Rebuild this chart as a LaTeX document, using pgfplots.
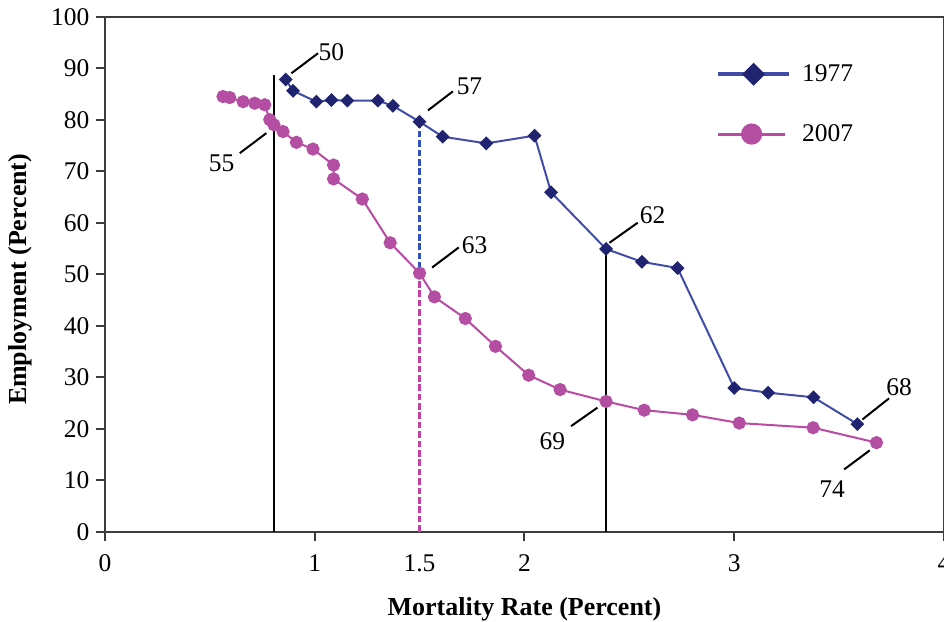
\documentclass[border=0pt]{standalone}
\usepackage{fontspec}
\setmainfont{Liberation Serif}
\usepackage{pgfplots}
\usepackage{pgfplotstable}
\pgfplotsset{compat=1.18}

\definecolor{navyline}{RGB}{64,76,168}
\definecolor{navymark}{RGB}{32,36,112}
\definecolor{plumline}{RGB}{186,74,162}
\definecolor{plummark}{RGB}{180,78,162}
\definecolor{axisgray}{RGB}{60,60,60}
\definecolor{dashblue}{RGB}{48,80,190}
\definecolor{dashplum}{RGB}{196,64,164}

\newcommand{\f}{\fontsize{12.75bp}{15bp}\selectfont}

% Employment rate against mortality rate, 1977
\pgfplotstableread{
x y
0.862 87.8
0.897 85.6
1.008 83.5
1.080 83.8
1.156 83.7
1.301 83.7
1.373 82.7
1.500 79.6
1.610 76.7
1.818 75.4
2.048 76.9
2.127 65.9
2.389 54.9
2.560 52.4
2.730 51.2
3.000 27.9
3.162 27.0
3.378 26.1
3.587 20.9
}\yearA

% Employment rate against mortality rate, 2007
\pgfplotstableread{
x y
0.563 84.5
0.595 84.3
0.659 83.5
0.714 83.2
0.762 82.9
0.786 80.0
0.806 79.0
0.849 77.7
0.913 75.6
0.992 74.3
1.090 71.2
1.090 68.5
1.227 64.6
1.360 56.1
1.500 50.2
1.571 45.6
1.718 41.4
1.862 36.0
2.020 30.4
2.170 27.6
2.389 25.3
2.571 23.6
2.801 22.7
3.024 21.1
3.376 20.2
3.678 17.3
}\yearB

\begin{document}
\begin{tikzpicture}
\begin{axis}[
  scale only axis,
  width=420bp, height=257.8bp,
  xmin=0, xmax=4, ymin=0, ymax=100,
  axis line style={axisgray, line width=1bp},
  xtick={0,1,2,3,4},
  ytick={0,10,...,100},
  extra x ticks={1.5},
  extra x tick style={major tick style={draw=none}},
  tick pos=left,
  tick align=outside,
  major tick length=4.6bp,
  tick style={axisgray, line width=1bp},
  ticklabel style={font=\f},
  /pgf/number format/assume math mode=true,
  xticklabel style={inner sep=3bp, yshift=-3.5bp},
  yticklabel style={inner sep=3bp},
  xlabel={Mortality Rate (Percent)},
  ylabel={Employment (Percent)},
  label style={font=\fontsize{13bp}{15bp}\selectfont\bfseries},
  xlabel style={at={(axis description cs:0.5,-0.151)}, anchor=center},
  ylabel style={at={(axis description cs:-0.101,0.49)}, anchor=center},
  legend style={draw=none, fill=none, font=\f,
    at={(axis cs:2.912,91.6)}, anchor=north west,
    row sep=16bp, inner sep=0pt,
    /tikz/every odd column/.append style={column sep=3.5bp}},
  legend cell align=left,
]

% reference lines at the marked ages
\addplot[black, line width=1bp, forget plot] coordinates {(0.805,0) (0.805,88.7)};
\addplot[black, line width=1bp, forget plot] coordinates {(2.389,0) (2.389,54.9)};
\addplot[dashblue, line width=1.5bp, dash pattern=on 3.3bp off 1.4bp, forget plot]
  coordinates {(1.5,0) (1.5,79.6)};
\addplot[dashplum, line width=1.5bp, dash pattern=on 3.3bp off 1.4bp, forget plot]
  coordinates {(1.5,0) (1.5,50.2)};

\addplot[navyline, line width=1bp, mark=square*, mark size=1.95bp,
  mark options={rotate=45, fill=navymark, draw=navymark, solid},
  legend image code/.code={
    \draw[line width=2bp] (0bp,0bp) -- (35.5bp,0bp);
    \draw[mark size=3.6bp] plot coordinates {(17.75bp,0bp)};
  }] table[x=x, y=y] {\yearA};
\addlegendentry{1977}

\addplot[plumline, line width=1bp, mark=*, mark size=2.8bp,
  mark options={fill=plummark, draw=plummark, solid},
  legend image code/.code={
    \draw[line width=1.5bp] (0bp,0bp) -- (33.5bp,0bp);
    \draw[mark size=4.8bp] plot coordinates {(16.75bp,0bp)};
  }] table[x=x, y=y] {\yearB};
\addlegendentry{2007}

% age annotations
\begin{scope}[line width=1bp, black]
  \draw (axis cs:0.889,89.0) -- (axis cs:1.016,92.9);
  \node[font=\f] at (axis cs:1.080,93.2) {50};
  \draw (axis cs:1.540,81.8) -- (axis cs:1.659,85.5);
  \node[font=\f] at (axis cs:1.738,86.4) {57};
  \draw (axis cs:0.643,73.5) -- (axis cs:0.770,77.4);
  \node[font=\f] at (axis cs:0.556,71.6) {55};
  \draw (axis cs:1.560,51.3) -- (axis cs:1.687,55.2);
  \node[font=\f] at (axis cs:1.762,55.7) {63};
  \draw (axis cs:2.405,56.1) -- (axis cs:2.540,60.0);
  \node[font=\f] at (axis cs:2.611,61.5) {62};
  \draw (axis cs:2.222,20.5) -- (axis cs:2.348,24.1);
  \node[font=\f] at (axis cs:2.133,17.5) {69};
  \draw (axis cs:3.611,21.8) -- (axis cs:3.738,25.9);
  \node[font=\f] at (axis cs:3.786,28.0) {68};
  \draw (axis cs:3.524,12.1) -- (axis cs:3.646,15.8);
  \node[font=\f] at (axis cs:3.467,8.2) {74};
\end{scope}
\end{axis}
\pgfresetboundingbox
\path[use as bounding box]
  ([shift={(-52.5bp,-44.85bp)}]current axis.south west)
  rectangle ([shift={(0bp,8.35bp)}]current axis.north east);
\end{tikzpicture}
\end{document}
